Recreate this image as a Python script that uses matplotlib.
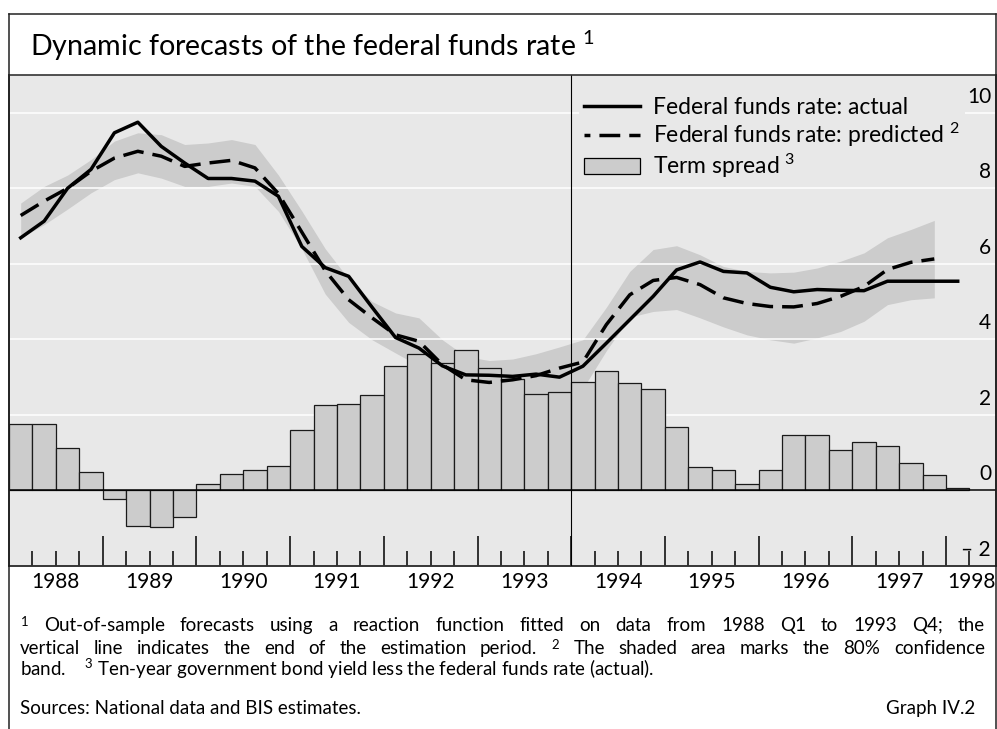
import matplotlib
matplotlib.use("Agg")
import numpy as np
import matplotlib.pyplot as plt
from matplotlib.lines import Line2D
from matplotlib.patches import Patch
from matplotlib.transforms import ScaledTranslation

plt.rcParams['font.family'] = ['Lato', 'DejaVu Sans']
plt.rcParams['mathtext.fontset'] = 'custom'
plt.rcParams['mathtext.rm'] = 'Lato'
plt.rcParams['mathtext.default'] = 'regular'

# ---------------- Data: quarterly from 1988 Q1 ----------------
start_year = 1988

# Term spread (bars), 1988 Q1 - 1998 Q1
term_spread = [1.76, 1.76, 1.12, 0.49, -0.23, -0.93, -0.96, -0.71,
               0.17, 0.43, 0.55, 0.66, 1.60, 2.26, 2.30, 2.53,
               3.29, 3.61, 3.37, 3.71, 3.24, 2.95, 2.56, 2.62,
               2.87, 3.15, 2.85, 2.68, 1.67, 0.61, 0.53, 0.17,
               0.55, 1.48, 1.48, 1.06, 1.27, 1.18, 0.72, 0.40, 0.07]

# Federal funds rate, actual, 1988 Q1 - 1998 Q1
ff_actual = [6.69, 7.13, 8.00, 8.50, 9.47, 9.75, 9.11, 8.67,
             8.26, 8.26, 8.19, 7.79, 6.46, 5.90, 5.67, 4.85,
             4.05, 3.77, 3.30, 3.06, 3.05, 3.02, 3.08, 3.00,
             3.29, 3.90, 4.52, 5.14, 5.84, 6.05, 5.80, 5.76,
             5.38, 5.26, 5.32, 5.30, 5.29, 5.54, 5.54, 5.54, 5.54]

# Federal funds rate, predicted, 1988 Q1 - 1997 Q4
ff_predicted = [7.28, 7.66, 8.00, 8.45, 8.80, 8.98, 8.85, 8.58,
                8.67, 8.74, 8.54, 7.86, 6.84, 5.82, 5.05, 4.57,
                4.12, 3.95, 3.33, 2.93, 2.86, 2.93, 3.04, 3.24,
                3.40, 4.39, 5.18, 5.56, 5.64, 5.45, 5.10, 4.95,
                4.87, 4.86, 4.95, 5.14, 5.40, 5.85, 6.04, 6.13]

# 80% confidence band around the prediction
band_upper = [7.61, 8.05, 8.35, 8.76, 9.25, 9.47, 9.42, 9.16,
              9.20, 9.29, 9.16, 8.35, 7.40, 6.40, 5.60, 5.00,
              4.70, 4.57, 3.99, 3.55, 3.44, 3.48, 3.62, 3.80,
              3.99, 4.85, 5.80, 6.38, 6.48, 6.24, 5.93, 5.80,
              5.76, 5.78, 5.89, 6.07, 6.29, 6.69, 6.91, 7.15]
band_lower = [6.69, 7.04, 7.45, 7.88, 8.23, 8.41, 8.27, 8.05,
              8.05, 8.14, 8.05, 7.39, 6.40, 5.20, 4.45, 3.99,
              3.64, 3.30, 2.90, 2.55, 2.40, 2.35, 2.40, 2.50,
              2.70, 3.70, 4.59, 4.74, 4.79, 4.57, 4.33, 4.12,
              3.99, 3.90, 4.04, 4.21, 4.48, 4.92, 5.05, 5.10]

year_labels = ["1988", "1989", "1990", "1991", "1992", "1993",
               "1994", "1995", "1996", "1997", "1998"]
y_ticks = [-2, 0, 2, 4, 6, 8, 10]
y_labels = ["\u2013 2", "0", "2", "4", "6", "8", "10"]
end_of_estimation = 1994.0

SUP1, SUP2, SUP3 = "${}^{1}$", "${}^{2}$", "${}^{3}$"
legend_labels = ["Federal funds rate: actual",
                 "Federal funds rate: predicted " + SUP2,
                 "Term spread " + SUP3]

title = "Dynamic forecasts of the federal funds rate " + SUP1
note_line1 = (SUP1 + " Out-of-sample forecasts using a reaction function fitted on data "
              "from 1988 Q1 to 1993 Q4; the")
note_line2 = ("vertical line indicates the end of the estimation period. " + SUP2 +
              " The shaded area marks the 80% confidence")
note_line3 = "band.    " + SUP3 + " Ten-year government bond yield less the federal funds rate (actual)."
sources = "Sources: National data and BIS estimates."
graph_id = "Graph IV.2"

# ---------------- Geometry helpers (pixels -> figure fraction) ----------------
W, H = 997, 729
fx = lambda px: px / W
fy = lambda py: 1 - py / H

BG = "#e8e8e8"
GREY = "#cccccc"

fig = plt.figure(figsize=(W / 100, H / 100), dpi=100)
ax = fig.add_axes([fx(9), fy(566), (996 - 9) / W, (566 - 75) / H])
ax.set_facecolor(BG)

q_left = start_year + np.arange(len(term_spread)) / 4
q_mid = q_left + 0.125
n_pred = len(ff_predicted)

# confidence band (below the grid)
ax.fill_between(q_mid[:n_pred], band_lower, band_upper, color=GREY, lw=0, zorder=0.3)

# term spread bars
ax.bar(q_left, term_spread, width=0.25, align='edge', color=GREY,
       edgecolor='#1a1a1a', linewidth=0.9, zorder=1)
ax.axhline(0, color='k', lw=1.1, zorder=2)
ax.axvline(end_of_estimation, color='k', lw=0.8, zorder=2.5)

# federal funds rate
ax.plot(q_mid, ff_actual, color='k', lw=2.5, zorder=3)
ax.plot(q_mid[:n_pred], ff_predicted, color='k', lw=2.5, dashes=(6, 2.6), zorder=3)

ax.set_xlim(1988, 1988 + 987 / 93.7)
ax.set_ylim(-2, 11)

# horizontal grid (white), drawn above band but under bars
ax.set_axisbelow(True)
ax.set_yticks(y_ticks)
ax.yaxis.grid(True, color='white', lw=1.1)
ax.tick_params(axis='y', length=0, labelleft=False, labelright=False)

# x ticks: years (long) and quarters (short), pointing up into the plot
ax.set_xticks(np.arange(1989, 1999))
ax.set_xticks([q for q in np.arange(1988.25, 1998.5, 0.25) if q % 1 != 0], minor=True)
ax.tick_params(axis='x', which='major', direction='in', length=21.5, width=1.1,
               color='k', labelbottom=False)
ax.tick_params(axis='x', which='minor', direction='in', length=10.8, width=1.1,
               color='k')

for s in ['left', 'bottom', 'right']:
    ax.spines[s].set_color('k')
    ax.spines[s].set_linewidth(1.1)
ax.spines['top'].set_color('#333333')
ax.spines['top'].set_linewidth(1.2)

# year labels centred on each year
xt = ax.get_xaxis_transform()
for i, lab in enumerate(year_labels):
    xpos = start_year + i + 0.5 if i < len(year_labels) - 1 else 1998.27
    ax.text(xpos, -0.033, lab, transform=xt, ha='center', va='center', fontsize=15)

# y labels inside on the right, sitting above their grid line
yt = ax.get_yaxis_transform() + ScaledTranslation(0, 10 / 100, fig.dpi_scale_trans)
for v, lab in zip(y_ticks, y_labels):
    ax.text(0.995, v, lab, transform=yt, ha='right', va='baseline', fontsize=15)

# legend
handles = [Line2D([], [], color='k', lw=2.5),
           Line2D([], [], color='k', lw=2.5, linestyle=(4.3, (6, 2.6))),
           Patch(facecolor=GREY, edgecolor='k', linewidth=0.9)]
leg = ax.legend(handles, legend_labels, loc='upper left',
                bbox_to_anchor=(fx(579), fy(92)), bbox_transform=fig.transFigure,
                frameon=True, facecolor=BG, edgecolor='none', framealpha=1,
                fontsize=16.5, handlelength=2.45, handletextpad=0.6,
                labelspacing=0.12, borderpad=0.2, borderaxespad=0)
leg.get_frame().set_boxstyle('square', pad=0)

# outer frame and title
frame_kw = dict(color='#222222', lw=1.1, transform=fig.transFigure)
fig.add_artist(Line2D([fx(9), fx(9)], [fy(14), 0], **frame_kw))
fig.add_artist(Line2D([fx(996), fx(996)], [fy(14), 0], **frame_kw))
fig.add_artist(Line2D([fx(9), fx(996)], [fy(14), fy(14)], **frame_kw))
fig.text(fx(30), fy(56), title, fontsize=20.6, ha='left', va='baseline')

# ---------------- Footnotes (first two lines justified) ----------------
renderer = fig.canvas.get_renderer()


def justify(line, x0, x1, y, size):
    words = [w for w in line.split(' ') if w != '']
    texts = [fig.text(0, fy(y), w, fontsize=size, va='baseline') for w in words]
    widths = [t.get_window_extent(renderer).width for t in texts]
    gap = (x1 - x0 - sum(widths)) / (len(words) - 1)
    x = x0
    for t, w in zip(texts, widths):
        t.set_x(fx(x))
        x += w + gap


fn_size = 13.5
justify(note_line1, 20, 985, 631, fn_size)
justify(note_line2, 20, 985, 654, fn_size)
fig.text(fx(20), fy(676), note_line3, fontsize=fn_size, va='baseline')
fig.text(fx(20), fy(714), sources, fontsize=fn_size, va='baseline')
fig.text(fx(975), fy(714), graph_id, fontsize=fn_size, va='baseline', ha='right')

fig.savefig("out.png", dpi=100)
